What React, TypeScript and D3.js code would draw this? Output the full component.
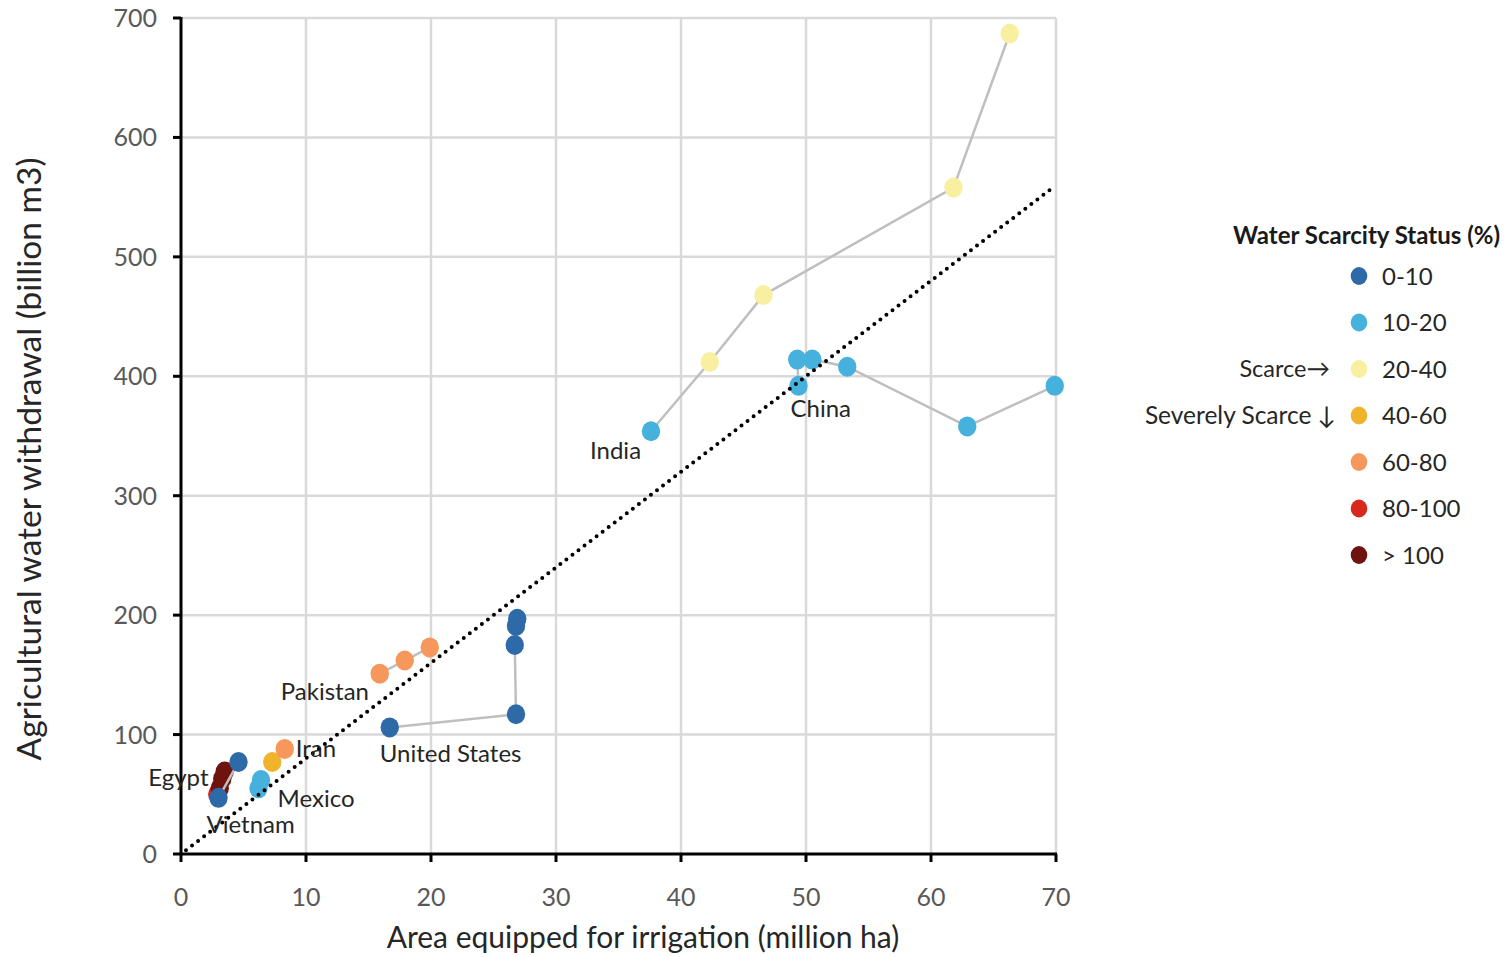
import React from "react";
import * as d3 from "d3";

// Status classes (share of renewable water withdrawn, %) and their colours
const statusClasses = ["0-10", "10-20", "20-40", "40-60", "60-80", "80-100", "> 100"];
const statusColors = ["#2e6aa8", "#47b1dd", "#f8f0a0", "#f0b32c", "#f6975c", "#d8271d", "#6e130e"];

// Country trajectories: area equipped for irrigation (million ha) vs agricultural withdrawal (billion m3)
const egyptArea = [2.9, 3.1, 3.3, 3.5];
const egyptWithdrawal = [50, 55, 63, 69];
const egyptStatus = ["80-100", "> 100", "> 100", "> 100"];

const vietnamArea = [3.0, 4.6];
const vietnamWithdrawal = [47, 77];
const vietnamStatus = ["0-10", "0-10"];

const mexicoArea = [6.2, 6.4];
const mexicoWithdrawal = [55, 62];
const mexicoStatus = ["10-20", "10-20"];

const iranArea = [7.3, 8.3];
const iranWithdrawal = [77, 88];
const iranStatus = ["40-60", "60-80"];

const pakistanArea = [15.9, 17.9, 19.9];
const pakistanWithdrawal = [151, 162, 173];
const pakistanStatus = ["60-80", "60-80", "60-80"];

const usArea = [16.7, 26.8, 26.7, 26.8, 26.9];
const usWithdrawal = [106, 117, 175, 191, 197];
const usStatus = ["0-10", "0-10", "0-10", "0-10", "0-10"];

const indiaArea = [37.6, 42.3, 46.6, 61.8, 66.3];
const indiaWithdrawal = [354, 412, 468, 558, 687];
const indiaStatus = ["10-20", "20-40", "20-40", "20-40", "20-40"];

const chinaArea = [49.4, 49.3, 50.5, 53.3, 62.9, 69.9];
const chinaWithdrawal = [392, 414, 414, 408, 358, 392];
const chinaStatus = ["10-20", "10-20", "10-20", "10-20", "10-20", "10-20"];

// Reference line: withdrawal = slope * area
const trendSlope = 8;
const trendRange = [0.4, 69.8];

const xTicks = [0, 10, 20, 30, 40, 50, 60, 70];
const yTicks = [0, 100, 200, 300, 400, 500, 600, 700];

type Series = {
  name: string;
  area: number[];
  withdrawal: number[];
  status: string[];
};

const series: Series[] = [
  { name: "Egypt", area: egyptArea, withdrawal: egyptWithdrawal, status: egyptStatus },
  { name: "Vietnam", area: vietnamArea, withdrawal: vietnamWithdrawal, status: vietnamStatus },
  { name: "Mexico", area: mexicoArea, withdrawal: mexicoWithdrawal, status: mexicoStatus },
  { name: "Iran", area: iranArea, withdrawal: iranWithdrawal, status: iranStatus },
  { name: "Pakistan", area: pakistanArea, withdrawal: pakistanWithdrawal, status: pakistanStatus },
  { name: "United States", area: usArea, withdrawal: usWithdrawal, status: usStatus },
  { name: "India", area: indiaArea, withdrawal: indiaWithdrawal, status: indiaStatus },
  { name: "China", area: chinaArea, withdrawal: chinaWithdrawal, status: chinaStatus },
];

// Where each country name sits: anchor point index and pixel offset from it
const labelPlacement: Record<string, { i: number; dx: number; dy: number }> = {
  Egypt: { i: 2, dx: -74, dy: 7 },
  Vietnam: { i: 0, dx: -12, dy: 35 },
  Mexico: { i: 0, dx: 19, dy: 19 },
  Iran: { i: 1, dx: 11, dy: 8 },
  Pakistan: { i: 0, dx: -99, dy: 26 },
  "United States": { i: 0, dx: -10, dy: 35 },
  India: { i: 0, dx: -61, dy: 28 },
  China: { i: 0, dx: -8, dy: 31 },
};

const FONT = "Lato, 'Open Sans', sans-serif";

export default function App() {
  const width = 1511;
  const height = 957;
  const left = 181;
  const right = 1056;
  const top = 18;
  const bottom = 854;

  const x = d3.scaleLinear().domain([0, 70]).range([left, right]);
  const y = d3.scaleLinear().domain([0, 700]).range([bottom, top]);
  const color = d3.scaleOrdinal<string, string>().domain(statusClasses).range(statusColors);

  const line = d3
    .line<[number, number]>()
    .x((d) => x(d[0]))
    .y((d) => y(d[1]));

  const trendPoints: [number, number][] = trendRange.map((a) => [a, a * trendSlope]);

  const legendX = 1359;
  const legendY0 = 276;
  const legendStep = 46.5;

  return (
    <svg
      width={width}
      height={height}
      style={{ position: "absolute", left: 0, top: 0, background: "#fff" }}
      fontFamily={FONT}
    >
      {/* grid */}
      <g stroke="#d9d9d9" strokeWidth={2.5}>
        {xTicks.slice(1).map((t) => (
          <line key={"gx" + t} x1={x(t)} x2={x(t)} y1={top} y2={bottom} />
        ))}
        {yTicks.slice(1).map((t) => (
          <line key={"gy" + t} x1={left} x2={right} y1={y(t)} y2={y(t)} />
        ))}
      </g>

      {/* axes */}
      <g stroke="#000" strokeWidth={3}>
        <line x1={left} x2={left} y1={top - 1} y2={bottom + 1} />
        <line x1={left - 1} x2={right + 1} y1={bottom} y2={bottom} />
        {yTicks.map((t) => (
          <line key={"ty" + t} x1={left - 8} x2={left} y1={y(t)} y2={y(t)} />
        ))}
        {xTicks.map((t) => (
          <line key={"tx" + t} x1={x(t)} x2={x(t)} y1={bottom} y2={bottom + 8} />
        ))}
      </g>

      <g fill="#595959" fontSize={25}>
        {yTicks.map((t) => (
          <text key={"ly" + t} x={left - 24} y={y(t)} dy="0.36em" textAnchor="end">
            {t}
          </text>
        ))}
        {xTicks.map((t) => (
          <text key={"lx" + t} x={x(t)} y={906} textAnchor="middle">
            {t}
          </text>
        ))}
      </g>

      <text x={643} y={948} textAnchor="middle" fontSize={30} fill="#262626">
        Area equipped for irrigation (million ha)
      </text>
      <text
        transform={`translate(41, 459) rotate(-90)`}
        textAnchor="middle"
        fontSize={33.5}
        fill="#262626"
      >
        Agricultural water withdrawal (billion m3)
      </text>

      {/* country trajectories */}
      {series.map((s) => {
        const pts: [number, number][] = s.area.map((a, i) => [a, s.withdrawal[i]]);
        return (
          <g key={s.name}>
            <path d={line(pts) ?? ""} fill="none" stroke="#bfbfbf" strokeWidth={2.5} />
            {pts.map((p, i) => (
              <ellipse
                key={i}
                cx={x(p[0])}
                cy={y(p[1])}
                rx={9.2}
                ry={10}
                fill={color(s.status[i])}
              />
            ))}
          </g>
        );
      })}

      {/* dotted reference line */}
      <path
        d={line(trendPoints) ?? ""}
        fill="none"
        stroke="#000"
        strokeWidth={4}
        strokeLinecap="round"
        strokeDasharray="0 7.6"
      />

      {/* country names */}
      <g fontSize={24} fill="#262626">
        {series.map((s) => {
          const p = labelPlacement[s.name];
          return (
            <text
              key={"n" + s.name}
              x={x(s.area[p.i]) + p.dx}
              y={y(s.withdrawal[p.i]) + p.dy}
            >
              {s.name}
            </text>
          );
        })}
      </g>

      {/* legend */}
      <text x={1500} y={244} textAnchor="end" fontSize={24} fontWeight="bold" fill="#1a1a1a">
        Water Scarcity Status (%)
      </text>
      {statusClasses.map((c, i) => (
        <g key={"lg" + c}>
          <ellipse cx={legendX} cy={legendY0 + i * legendStep} rx={8.3} ry={9} fill={color(c)} />
          <text
            x={legendX + 23}
            y={legendY0 + i * legendStep}
            dy="0.36em"
            fontSize={24}
            fill="#262626"
          >
            {c}
          </text>
        </g>
      ))}
      <text x={1330} y={legendY0 + 2 * legendStep} dy="0.36em" textAnchor="end" fontSize={23.5} fill="#262626">
        Scarce→
      </text>
      <text x={1336} y={legendY0 + 3 * legendStep} dy="0.36em" textAnchor="end" fontSize={24.5} fill="#262626">
        Severely Scarce ↓
      </text>
    </svg>
  );
}
